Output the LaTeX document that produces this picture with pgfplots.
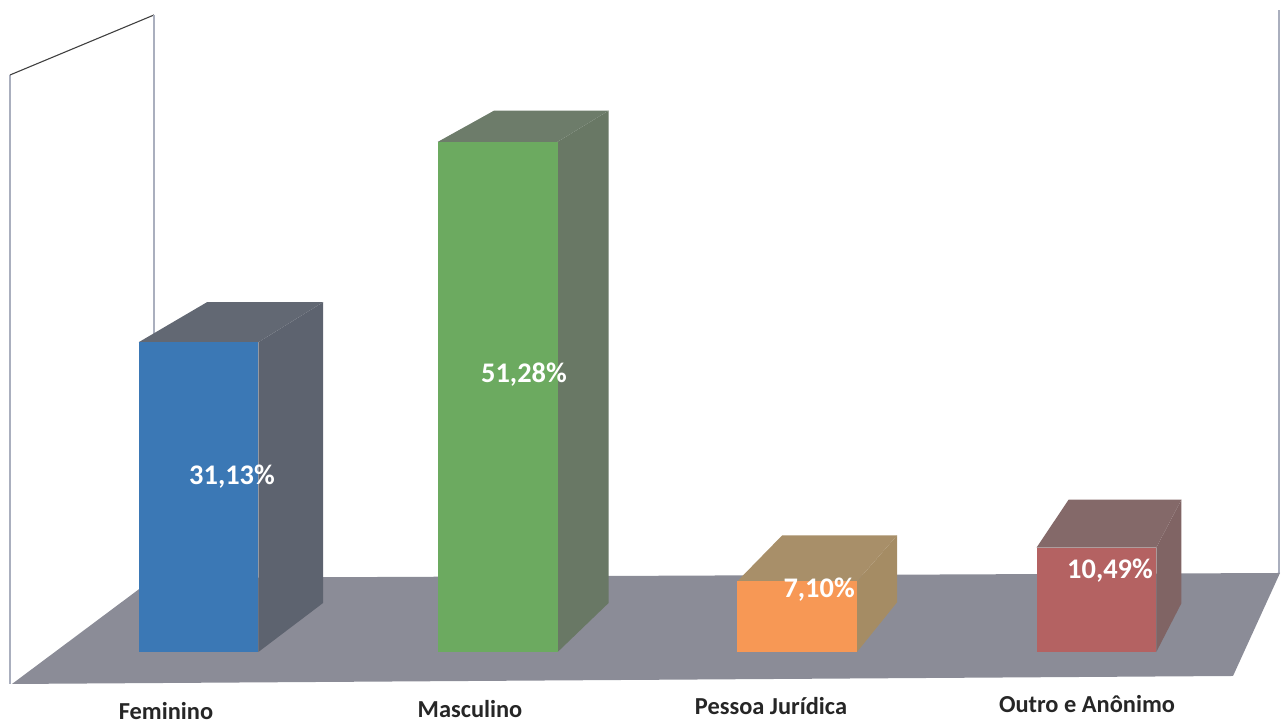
\documentclass[border=0pt]{standalone}
\usepackage{fontspec}
\setmainfont{Carlito}
\usepackage{pgfplots}
\pgfplotsset{compat=1.18}

% face colours: front / darker top and side
\definecolor{femfront}{HTML}{3B78B5}
\definecolor{femdark}{HTML}{5D636F}
\definecolor{mascfront}{HTML}{6CAA60}
\definecolor{mascdark}{HTML}{697865}
\definecolor{pjfront}{HTML}{F79855}
\definecolor{pjdark}{HTML}{A58C64}
\definecolor{outfront}{HTML}{B46262}
\definecolor{outdark}{HTML}{806464}
\definecolor{floorgrey}{HTML}{8B8C97}
\definecolor{wallgrey}{HTML}{AAAFBE}

\begin{document}
\begin{tikzpicture}
\begin{axis}[
  scale only axis, width=1285bp, height=724bp,
  xmin=-0.6632, xmax=3.6301, ymin=-7.236, ymax=65.528,
  hide axis, clip=false,
]
\path (rel axis cs:0,0) rectangle (rel axis cs:1,1);

% walls (outline only)
\addplot[draw=wallgrey, line width=1.3pt] coordinates {(-0.6298,-3.216) (-0.6298,57.99)};
\addplot[draw=black!75, line width=1.1pt] coordinates {(-0.6298,57.99) (-0.1487,64.02)};
\addplot[draw=wallgrey, line width=1.3pt] coordinates {(-0.1487,64.02) (-0.1487,7.437)};
\addplot[draw=wallgrey, line width=1.3pt] coordinates {(3.610,64.52) (3.610,7.94)};

% floor
\addplot[fill=floorgrey, draw=none] coordinates
  {(-0.6231,-3.216) (3.4564,-2.412) (3.6134,7.940) (-0.1487,7.437)} -- cycle;

% Feminino: 31.13
\addplot[fill=femdark, draw=none] coordinates {(0.2,0) (0.416,4.92) (0.416,35.15) (0.2,31.13)} -- cycle;
\addplot[fill=femdark!97!white, draw=none] coordinates {(-0.2,31.13) (0.2,31.13) (0.416,35.15) (0.028,35.15)} -- cycle;
\addplot[fill=femfront, draw=none] coordinates {(-0.2,0) (0.2,0) (0.2,31.13) (-0.2,31.13)} -- cycle;

% Masculino: 51.28
\addplot[fill=mascdark, draw=none] coordinates {(1.2,0) (1.370,4.92) (1.370,54.40) (1.2,51.28)} -- cycle;
\addplot[fill=mascdark!97!white, draw=none] coordinates {(0.8,51.28) (1.2,51.28) (1.370,54.40) (0.987,54.40)} -- cycle;
\addplot[fill=mascfront, draw=none] coordinates {(0.8,0) (1.2,0) (1.2,51.28) (0.8,51.28)} -- cycle;

% Pessoa Juridica: 7.10
\addplot[fill=pjdark, draw=none] coordinates {(2.2,0) (2.334,5.0) (2.334,11.72) (2.2,7.10)} -- cycle;
\addplot[fill=pjdark!97!white, draw=none] coordinates {(1.8,7.10) (2.2,7.10) (2.334,11.72) (1.950,11.72)} -- cycle;
\addplot[fill=pjfront, draw=none] coordinates {(1.8,0) (2.2,0) (2.2,7.10) (1.8,7.10)} -- cycle;

% Outro e Anonimo: 10.49
\addplot[fill=outdark, draw=none] coordinates {(3.2,0) (3.284,4.9) (3.284,15.31) (3.2,10.49)} -- cycle;
\addplot[fill=outdark!97!white, draw=none] coordinates {(2.8,10.49) (3.2,10.49) (3.284,15.31) (2.907,15.31)} -- cycle;
\addplot[fill=outfront, draw=none] coordinates {(2.8,0) (3.2,0) (3.2,10.49) (2.8,10.49)} -- cycle;

% value labels
\begin{scope}[every node/.style={anchor=base, text=white, font=\bfseries\fontsize{28.5}{28.5}\selectfont}]
\node at (axis cs:0.112,16.88) {31,13\%};
\node at (axis cs:1.0875,27.04) {51,28\%};
\node at (axis cs:2.0735,5.43) {7,10\%};
\node at (axis cs:3.0454,7.34) {10,49\%};
\end{scope}

% category labels
\begin{scope}[every node/.style={anchor=base, text=black!85, font=\bfseries\fontsize{24.5}{24.5}\selectfont}]
\node at (axis cs:-0.1086,-6.83) {Feminino};
\node at (axis cs:0.9071,-6.63) {Masculino};
\node at (axis cs:1.9128,-6.33) {Pessoa Jurídica};
\node at (axis cs:2.9686,-6.13) {Outro e Anônimo};
\end{scope}
\end{axis}
\end{tikzpicture}
\end{document}
